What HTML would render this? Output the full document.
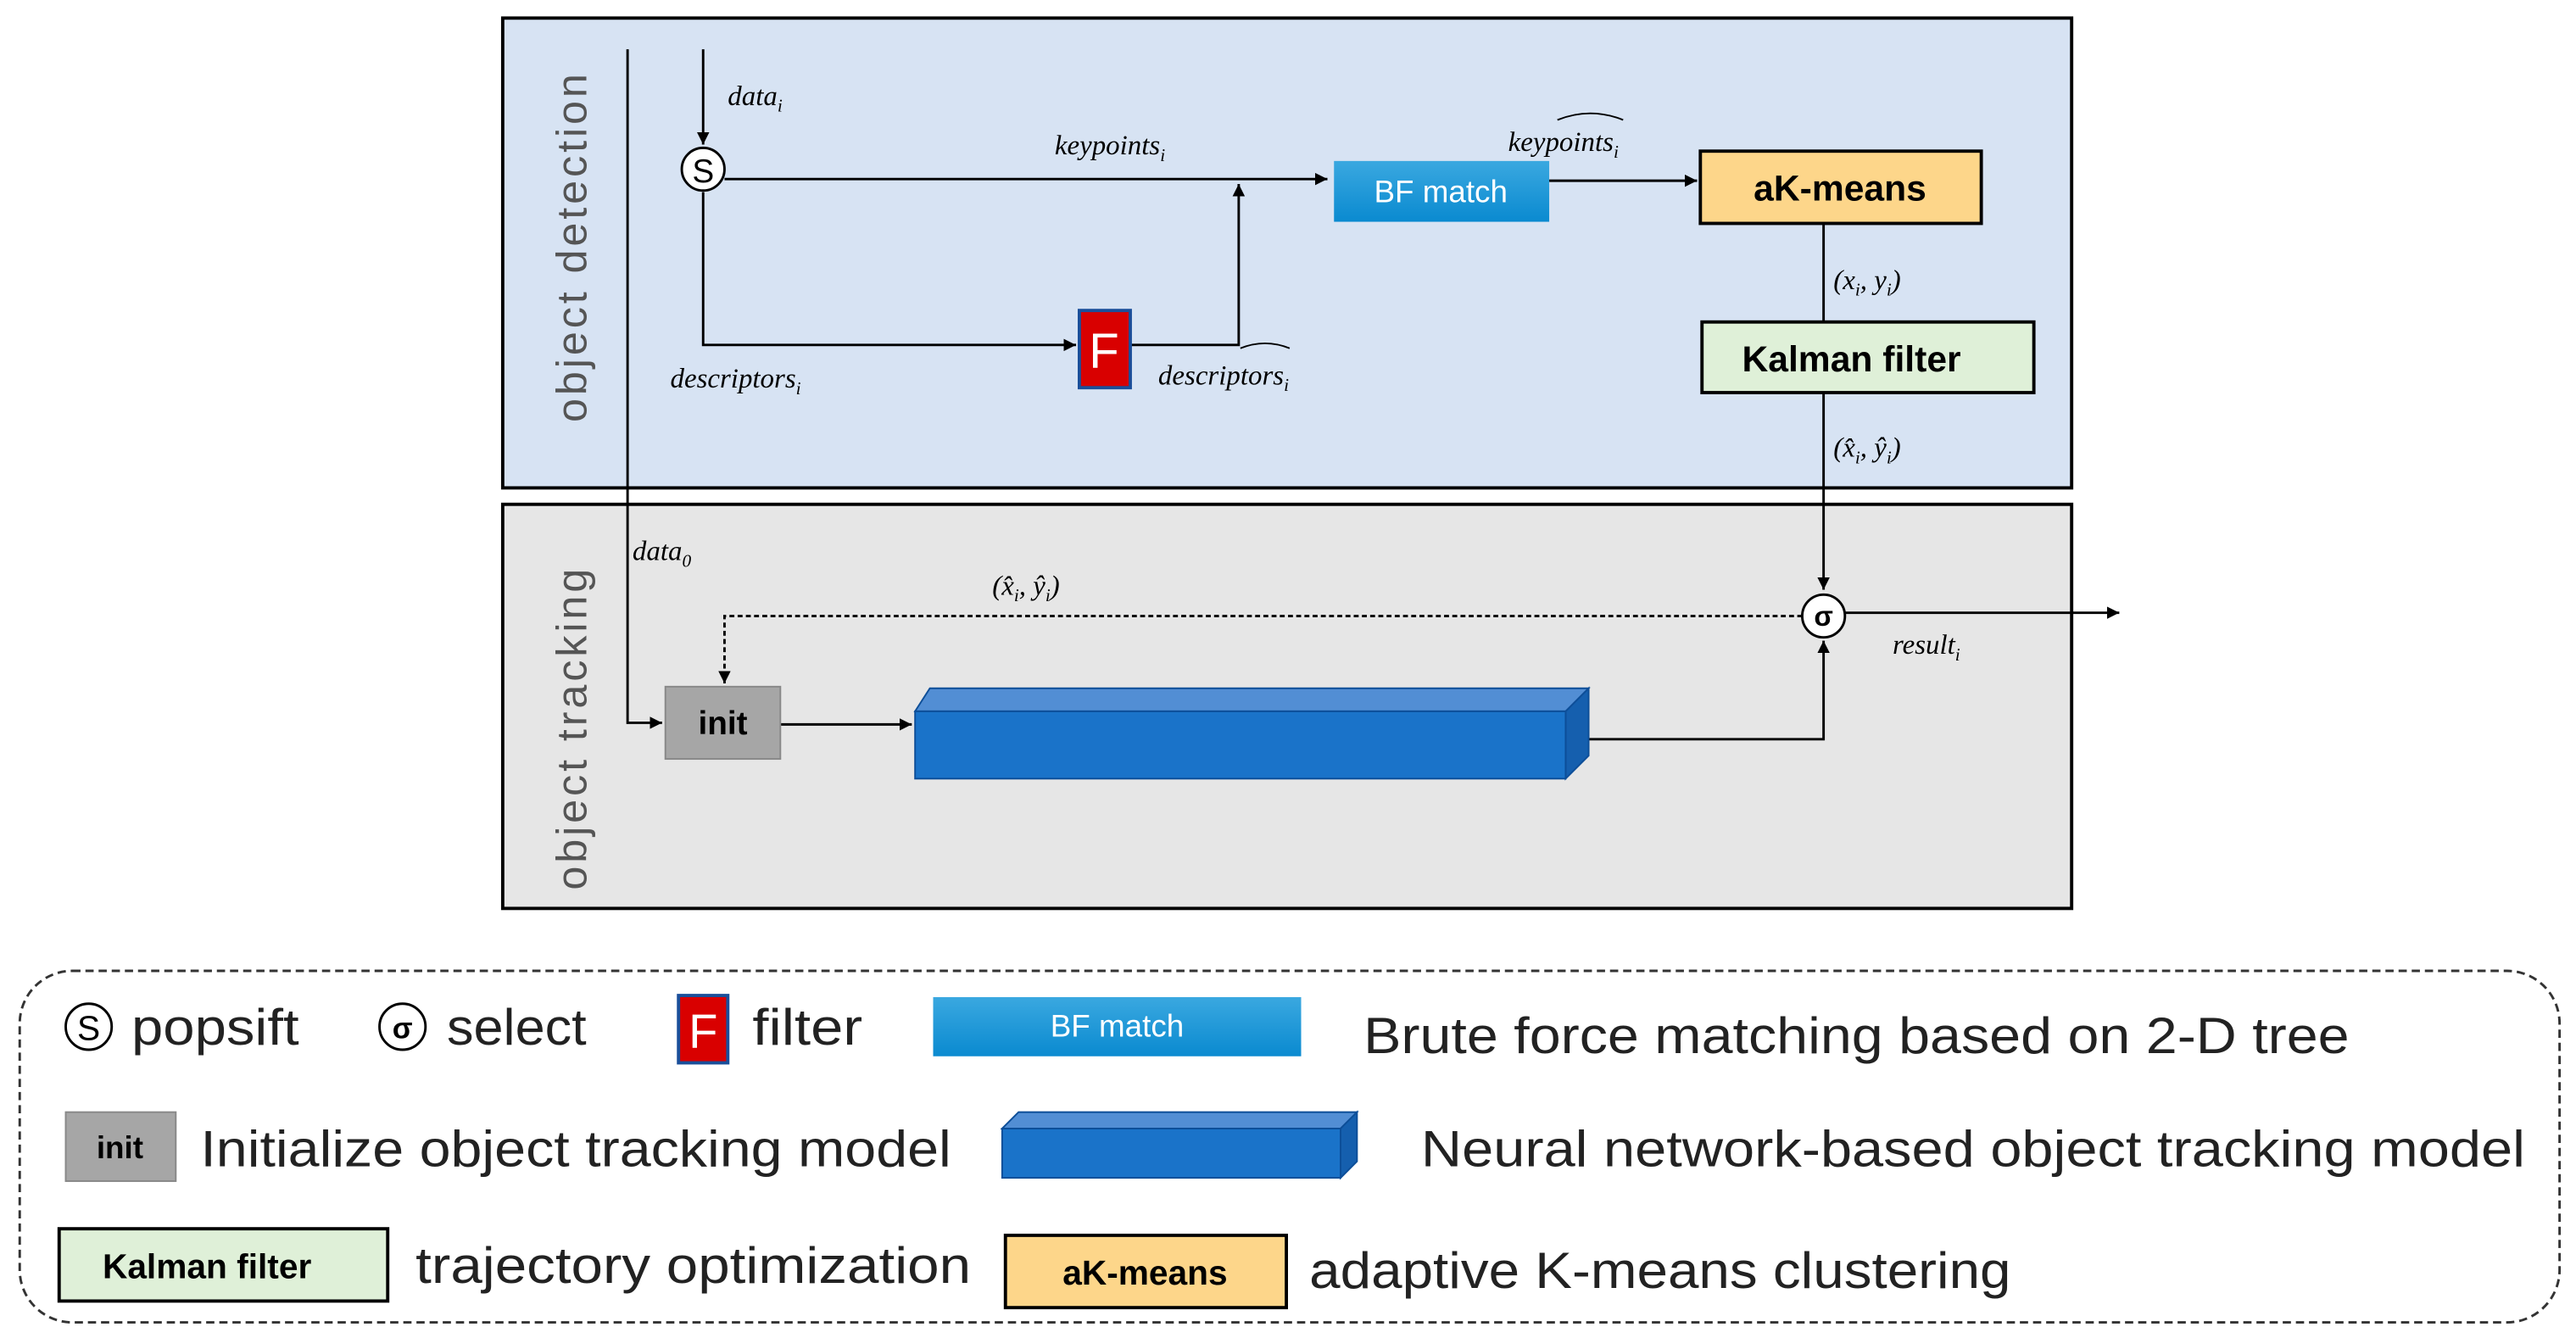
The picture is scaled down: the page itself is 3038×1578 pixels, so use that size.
<!DOCTYPE html>
<html><head><meta charset="utf-8"><style>html,body{margin:0;padding:0;background:#fff}svg{display:block}</style></head>
<body>
<svg width="3038" height="1578" viewBox="0 0 1568 814.5" preserveAspectRatio="none" xmlns="http://www.w3.org/2000/svg">
<defs>
<marker id="a" viewBox="0 0 10 10" refX="10" refY="5" markerWidth="5" markerHeight="5" orient="auto-start-reverse"><path d="M0,0L10,5L0,10z" fill="#000"/></marker>
<linearGradient id="bf" x1="0" y1="0" x2="0" y2="1"><stop offset="0" stop-color="#3aa8e0"/><stop offset="1" stop-color="#0a8ad0"/></linearGradient>
</defs>
<style>
.it{font-family:"Liberation Serif",serif;font-style:italic;font-size:17px}
.sn{font-family:"Liberation Sans",sans-serif}
.lg{font-family:"Liberation Sans",sans-serif;font-size:31px;fill:#222}
</style>
<rect x="306" y="11" width="955" height="286" fill="#d7e3f3" stroke="#000" stroke-width="2"/>
<rect x="306" y="307" width="955" height="246" fill="#e6e6e6" stroke="#000" stroke-width="2"/>
<text class="sn" transform="translate(357,150) rotate(-90)" text-anchor="middle" font-size="26" fill="#555" letter-spacing="2">object detection</text>
<text class="sn" transform="translate(357,443) rotate(-90)" text-anchor="middle" font-size="26" fill="#555" letter-spacing="2">object tracking</text>
<g stroke="#000" stroke-width="1.5" fill="none">
<path d="M382,30V440H403" marker-end="url(#a)"/>
<path d="M428,30V88" marker-end="url(#a)"/>
<path d="M441,109H808" marker-end="url(#a)"/>
<path d="M428,117V210H655" marker-end="url(#a)"/>
<path d="M688,210H754V112" marker-end="url(#a)"/>
<path d="M943,110H1033" marker-end="url(#a)"/>
<path d="M1110,136V196"/>
<path d="M1110,239V359" marker-end="url(#a)"/>
<path d="M1123,373H1290" marker-end="url(#a)"/>
<path d="M1097,375H441V416" stroke-dasharray="3,2" marker-end="url(#a)"/>
<path d="M475,441H555" marker-end="url(#a)"/>
<path d="M967,450H1110V390" marker-end="url(#a)"/>
</g>
<circle cx="428" cy="103" r="13" fill="#fff" stroke="#000" stroke-width="1.5"/>
<text class="sn" x="428" y="111" text-anchor="middle" font-size="20">S</text>
<circle cx="1110" cy="375" r="13" fill="#fff" stroke="#000" stroke-width="1.5"/>
<text class="sn" x="1110" y="381" text-anchor="middle" font-size="17" font-weight="bold">σ</text>
<rect x="657" y="189" width="31" height="47" fill="#d90000" stroke="#1a4f9a" stroke-width="2"/>
<text class="sn" x="672" y="224" text-anchor="middle" font-size="30" fill="#fff">F</text>
<rect x="812" y="98" width="131" height="37" fill="url(#bf)"/>
<text class="sn" x="877" y="123" text-anchor="middle" font-size="19" fill="#fff">BF match</text>
<rect x="1035" y="92" width="171" height="44" fill="#fdd68a" stroke="#000" stroke-width="2"/>
<text class="sn" x="1120" y="122" text-anchor="middle" font-size="22" font-weight="bold">aK-means</text>
<rect x="1036" y="196" width="202" height="43" fill="#dff0d8" stroke="#000" stroke-width="2"/>
<text class="sn" x="1127" y="226" text-anchor="middle" font-size="22" font-weight="bold">Kalman filter</text>
<rect x="405" y="418" width="70" height="44" fill="#a6a6a6" stroke="#888"/>
<text class="sn" x="440" y="447" text-anchor="middle" font-size="20" font-weight="bold">init</text>
<polygon points="557,433 566,419 967,419 953,433" fill="#528ed4" stroke="#0d4e98"/>
<polygon points="953,433 967,419 967,460 953,474" fill="#155fae" stroke="#0d4e98"/>
<rect x="557" y="433" width="396" height="41" fill="#1a73c9" stroke="#0d4e98"/>
<text class="it" x="443" y="64">data<tspan font-size="11" dy="4">i</tspan></text>
<text class="it" x="642" y="94">keypoints<tspan font-size="11" dy="4">i</tspan></text>
<text class="it" x="918" y="92">keypoints<tspan font-size="11" dy="4">i</tspan></text>
<path d="M948,73Q968,65 988,73" stroke="#000" fill="none"/>
<text class="it" x="408" y="236">descriptors<tspan font-size="11" dy="4">i</tspan></text>
<text class="it" x="705" y="234">descriptors<tspan font-size="11" dy="4">i</tspan></text>
<path d="M755,212Q770,206 785,212" stroke="#000" fill="none"/>
<text class="it" x="1116" y="176">(x<tspan font-size="11" dy="4">i</tspan><tspan dy="-4">, y</tspan><tspan font-size="11" dy="4">i</tspan><tspan dy="-4">)</tspan></text>
<text class="it" x="1116" y="278">(x̂<tspan font-size="11" dy="4">i</tspan><tspan dy="-4">, ŷ</tspan><tspan font-size="11" dy="4">i</tspan><tspan dy="-4">)</tspan></text>
<text class="it" x="604" y="362">(x̂<tspan font-size="11" dy="4">i</tspan><tspan dy="-4">, ŷ</tspan><tspan font-size="11" dy="4">i</tspan><tspan dy="-4">)</tspan></text>
<text class="it" x="385" y="341">data<tspan font-size="11" dy="4">0</tspan></text>
<text class="it" x="1152" y="398">result<tspan font-size="11" dy="4">i</tspan></text>
<rect x="12" y="591" width="1546" height="214" rx="32" fill="none" stroke="#333" stroke-width="1.5" stroke-dasharray="5,3"/>
<circle cx="54" cy="625" r="14" fill="#fff" stroke="#000" stroke-width="1.5"/>
<text class="sn" x="54" y="633" text-anchor="middle" font-size="21">S</text>
<text class="lg" x="80" y="636" textLength="102" lengthAdjust="spacingAndGlyphs">popsift</text>
<circle cx="245" cy="625" r="14" fill="#fff" stroke="#000" stroke-width="1.5"/>
<text class="sn" x="245" y="632" text-anchor="middle" font-size="18" font-weight="bold">σ</text>
<text class="lg" x="272" y="636" textLength="85" lengthAdjust="spacingAndGlyphs">select</text>
<rect x="413" y="606" width="30" height="41" fill="#d90000" stroke="#1a4f9a" stroke-width="2"/>
<text class="sn" x="428" y="638" text-anchor="middle" font-size="29" fill="#fff">F</text>
<text class="lg" x="458" y="636" textLength="67" lengthAdjust="spacingAndGlyphs">filter</text>
<rect x="568" y="607" width="224" height="36" fill="url(#bf)"/>
<text class="sn" x="680" y="631" text-anchor="middle" font-size="19" fill="#fff">BF match</text>
<text class="lg" x="830" y="641" textLength="600" lengthAdjust="spacingAndGlyphs">Brute force matching based on 2-D tree</text>
<rect x="40" y="677" width="67" height="42" fill="#a6a6a6" stroke="#888"/>
<text class="sn" x="73" y="705" text-anchor="middle" font-size="19" font-weight="bold">init</text>
<text class="lg" x="122" y="710" textLength="457" lengthAdjust="spacingAndGlyphs">Initialize object tracking model</text>
<polygon points="610,687 620,677 826,677 816,687" fill="#528ed4" stroke="#0d4e98"/>
<polygon points="816,687 826,677 826,707 816,717" fill="#155fae" stroke="#0d4e98"/>
<rect x="610" y="687" width="206" height="30" fill="#1a73c9" stroke="#0d4e98"/>
<text class="lg" x="865" y="710" textLength="672" lengthAdjust="spacingAndGlyphs">Neural network-based object tracking model</text>
<rect x="36" y="748" width="200" height="44" fill="#dff0d8" stroke="#000" stroke-width="2"/>
<text class="sn" x="126" y="778" text-anchor="middle" font-size="21" font-weight="bold">Kalman filter</text>
<text class="lg" x="253" y="781" textLength="338" lengthAdjust="spacingAndGlyphs">trajectory optimization</text>
<rect x="612" y="752" width="171" height="44" fill="#fdd68a" stroke="#000" stroke-width="2"/>
<text class="sn" x="697" y="782" text-anchor="middle" font-size="21" font-weight="bold">aK-means</text>
<text class="lg" x="797" y="784" textLength="427" lengthAdjust="spacingAndGlyphs">adaptive K-means clustering</text>
</svg>
</body></html>
